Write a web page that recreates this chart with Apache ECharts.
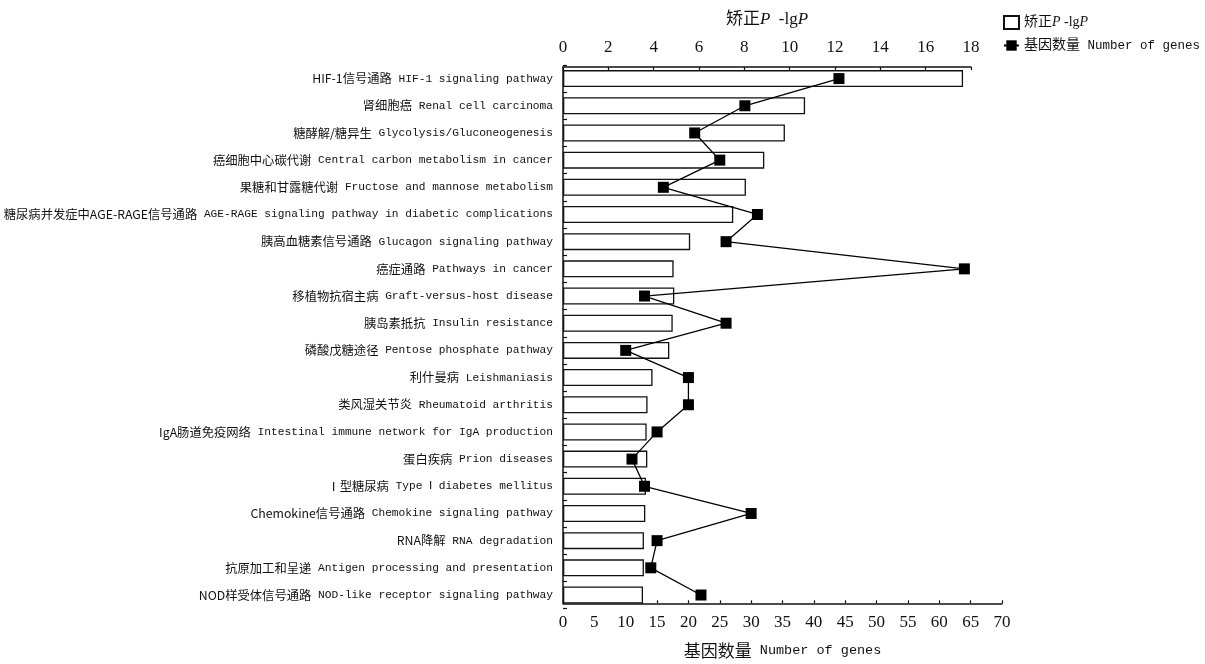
<!DOCTYPE html>
<html><head><meta charset="utf-8">
<script src="https://cdn.jsdelivr.net/npm/echarts@6/dist/echarts.min.js"></script>
<style>html,body{margin:0;padding:0;background:#fff}#c{width:1205px;height:664px}</style>
</head><body><div id="c"></div>
<script>
const categories = [
  'HIF-1信号通路 HIF-1 signaling pathway',
  '肾细胞癌 Renal cell carcinoma',
  '糖酵解/糖异生 Glycolysis/Gluconeogenesis',
  '癌细胞中心碳代谢 Central carbon metabolism in cancer',
  '果糖和甘露糖代谢 Fructose and mannose metabolism',
  '糖尿病并发症中AGE-RAGE信号通路 AGE-RAGE signaling pathway in diabetic complications',
  '胰高血糖素信号通路 Glucagon signaling pathway',
  '癌症通路 Pathways in cancer',
  '移植物抗宿主病 Graft-versus-host disease',
  '胰岛素抵抗 Insulin resistance',
  '磷酸戊糖途径 Pentose phosphate pathway',
  '利什曼病 Leishmaniasis',
  '类风湿关节炎 Rheumatoid arthritis',
  'IgA肠道免疫网络 Intestinal immune network for IgA production',
  '蛋白疾病 Prion diseases',
  'Ⅰ型糖尿病 Type Ⅰ diabetes mellitus',
  'Chemokine信号通路 Chemokine signaling pathway',
  'RNA降解 RNA degradation',
  '抗原加工和呈递 Antigen processing and presentation',
  'NOD样受体信号通路 NOD-like receptor signaling pathway'
];
// corrected P, -lgP (top axis)
const pValues = [17.65, 10.68, 9.79, 8.88, 8.07, 7.51, 5.61, 4.88, 4.91, 4.84,
                 4.69, 3.95, 3.73, 3.69, 3.72, 3.66, 3.63, 3.57, 3.57, 3.53];
// number of genes (bottom axis)
const geneCounts = [44, 29, 21, 25, 16, 31, 26, 64, 13, 26,
                    10, 20, 20, 15, 11, 13, 30, 15, 14, 22];
const pAxisTicks = [0, 18, 2];     // min, max, interval
const geneAxisTicks = [0, 70, 5];  // min, max, interval
const seriesNames = ['矫正P -lgP', '基因数量 Number of genes'];

const CN = 'Noto Sans CJK SC';
const chart = echarts.init(document.getElementById('c'));
const GT = 65, GH = 543.6;

function catLabel(s) {
  const i = s.indexOf(' ');
  return '{c|' + s.slice(0, i) + '}{e|' + s.slice(i) + '}';
}

chart.setOption({
  animation: false,
  backgroundColor: '#fff',
  legend: {
    orient: 'vertical', left: 998, top: 10,
    itemWidth: 15, itemHeight: 13, itemGap: 8.5,
    data: [{ name: seriesNames[0], icon: 'rect' }, { name: seriesNames[1] }],
    formatter: function (n) {
      return n === seriesNames[0] ? '矫正{i|P} -lg{i|P}' : '基因数量{e| Number of genes}';
    },
    textStyle: {
      fontSize: 14, color: '#111', fontFamily: 'Liberation Serif, ' + CN,
      rich: {
        i: { fontStyle: 'italic', fontSize: 14, fontFamily: 'Liberation Serif', color: '#111' },
        e: { fontSize: 12.5, fontFamily: 'Liberation Mono', color: '#111' }
      }
    }
  },
  grid: [
    { left: 563, top: GT, width: 408, height: GH, outerBoundsMode: 'none', containLabel: false },
    { left: 563, top: GT, width: 439, height: GH, outerBoundsMode: 'none', containLabel: false },
    { left: 563, top: 67, width: 439, height: 536.3, outerBoundsMode: 'none', containLabel: false }
  ],
  xAxis: [
    {
      gridIndex: 0, type: 'value', position: 'top', offset: -2,
      min: pAxisTicks[0], max: pAxisTicks[1], interval: pAxisTicks[2],
      name: '矫正{i|P}  -lg{i|P}', nameLocation: 'middle', nameGap: 39,
      nameTextStyle: {
        fontSize: 17, color: '#111', fontFamily: 'Liberation Serif, ' + CN,
        rich: { i: { fontStyle: 'italic', fontSize: 17, fontFamily: 'Liberation Serif', color: '#111' } }
      },
      axisLine: { show: true, lineStyle: { color: '#111', width: 1.5 } },
      axisTick: { show: true, inside: true, length: 3, lineStyle: { color: '#111', width: 1.2 } },
      axisLabel: { fontSize: 17, color: '#111', fontFamily: 'Liberation Serif', margin: 11 },
      splitLine: { show: false }
    },
    {
      gridIndex: 1, type: 'value', position: 'bottom', offset: -5.3,
      min: geneAxisTicks[0], max: geneAxisTicks[1], interval: geneAxisTicks[2],
      name: '基因数量{e| Number of genes}', nameLocation: 'middle', nameGap: 39,
      nameTextStyle: {
        fontSize: 17, color: '#111', fontFamily: CN,
        rich: { e: { fontSize: 13.5, fontFamily: 'Liberation Mono', color: '#111' } }
      },
      axisLine: { show: true, lineStyle: { color: '#111', width: 1.5 } },
      axisTick: { show: true, inside: true, length: 3, lineStyle: { color: '#111', width: 1.2 } },
      axisLabel: { fontSize: 17, color: '#111', fontFamily: 'Liberation Serif', margin: 11 },
      splitLine: { show: false }
    },
    { gridIndex: 2, type: 'value', show: false, min: 0, max: 1 }
  ],
  yAxis: [
    {
      gridIndex: 0, type: 'category', inverse: true, data: categories,
      axisLine: { show: false },
      axisTick: { show: true, inside: true, length: 4, lineStyle: { color: '#111', width: 1.2 } },
      axisLabel: {
        margin: 10, color: '#111',
        formatter: catLabel,
        rich: {
          c: { fontSize: 12.3, fontFamily: CN, color: '#111' },
          e: { fontSize: 11.2, fontFamily: 'Liberation Mono', color: '#111' }
        }
      }
    },
    { gridIndex: 1, type: 'category', inverse: true, data: categories, show: false },
    {
      gridIndex: 2, type: 'category', inverse: true, data: categories,
      axisLine: { show: true, lineStyle: { color: '#111', width: 1.5 } },
      axisTick: { show: false }, axisLabel: { show: false }
    }
  ],
  series: [
    {
      name: seriesNames[0], type: 'bar', xAxisIndex: 0, yAxisIndex: 0,
      data: pValues, barWidth: 17,
      itemStyle: { color: '#fff', borderColor: '#111', borderWidth: 1.3 }
    },
    {
      name: seriesNames[1], type: 'line', xAxisIndex: 1, yAxisIndex: 1,
      data: geneCounts, symbol: 'rect', symbolSize: 11, z: 5,
      lineStyle: { color: '#000', width: 1.3 },
      itemStyle: { color: '#000' }
    }
  ]
});
</script>
</body></html>
